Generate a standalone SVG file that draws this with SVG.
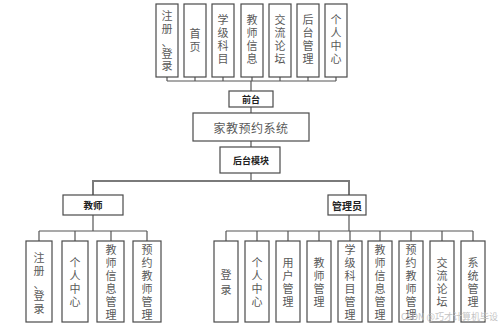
<svg xmlns="http://www.w3.org/2000/svg" width="500" height="326" viewBox="0 0 500 326">
<style>
.box{fill:#fff;stroke:#4a4a4a;stroke-width:1.2}
.ln{fill:none;stroke:#555;stroke-width:1.2}
.bus{fill:none;stroke:#7a7a7a;stroke-width:2}
.v{font-family:"Noto Sans CJK SC","Noto Sans",sans-serif;font-size:11px;fill:#5a5a5a;text-anchor:middle;dominant-baseline:central}
.b{font-family:"Noto Sans CJK SC","Noto Sans",sans-serif;font-weight:700;fill:#222;text-anchor:middle;dominant-baseline:central}
.t{font-family:"Noto Sans CJK SC","Noto Sans",sans-serif;font-size:12px;fill:#5a5a5a;text-anchor:middle;dominant-baseline:central;letter-spacing:0.5px}
.wm{font-family:"Noto Sans CJK SC","Noto Sans",sans-serif;font-size:9px;fill:#c4c4c4}
</style>
<rect width="500" height="326" fill="#fff"/>
<g id="connectors">
<path class="ln" d="M167 77V81M195 77V81M223 77V81M252 77V81M280 77V81M308 77V81M336 77V81M167 81H336M251 81V91M251 107V113M251 141V147M251 173V181"/>
<path class="bus" d="M93 195V181H349V195"/>
<path class="ln" d="M93 215V231M39 231H147M39 231V241M75 231V241M111 231V241M147 231V241"/>
<path class="ln" d="M349 215V231M226 231H473M226 231V241M257 231V241M288 231V241M319 231V241M350 231V241M380 231V241M411 231V241M442 231V241M473 231V241"/>
</g>
<g id="top1"><rect class="box" x="156" y="4" width="22" height="73"/><text class="v"><tspan x="167" y="15">注</tspan><tspan x="167" y="28">册</tspan><tspan x="167" y="41">、</tspan><tspan x="167" y="53">登</tspan><tspan x="167" y="65">录</tspan></text></g>
<g id="top2"><rect class="box" x="184" y="4" width="22" height="73"/><text class="v"><tspan x="195" y="33">首</tspan><tspan x="195" y="46">页</tspan></text></g>
<g id="top3"><rect class="box" x="212" y="4" width="22" height="73"/><text class="v"><tspan x="223" y="19">学</tspan><tspan x="223" y="32">级</tspan><tspan x="223" y="45">科</tspan><tspan x="223" y="58">目</tspan></text></g>
<g id="top4"><rect class="box" x="241" y="4" width="22" height="73"/><text class="v"><tspan x="252" y="19">教</tspan><tspan x="252" y="32">师</tspan><tspan x="252" y="45">信</tspan><tspan x="252" y="58">息</tspan></text></g>
<g id="top5"><rect class="box" x="269" y="4" width="22" height="73"/><text class="v"><tspan x="280" y="19">交</tspan><tspan x="280" y="32">流</tspan><tspan x="280" y="45">论</tspan><tspan x="280" y="58">坛</tspan></text></g>
<g id="top6"><rect class="box" x="297" y="4" width="22" height="73"/><text class="v"><tspan x="308" y="19">后</tspan><tspan x="308" y="32">台</tspan><tspan x="308" y="45">管</tspan><tspan x="308" y="58">理</tspan></text></g>
<g id="top7"><rect class="box" x="325" y="4" width="22" height="73"/><text class="v"><tspan x="336" y="19">个</tspan><tspan x="336" y="32">人</tspan><tspan x="336" y="45">中</tspan><tspan x="336" y="58">心</tspan></text></g>
<g id="qiantai"><rect class="box" x="229" y="91" width="44" height="16"/><text class="b" x="251" y="99" font-size="9">前台</text></g>
<g id="system"><rect class="box" x="193" y="113" width="116" height="28"/><text class="t" x="251" y="127">家教预约系统</text></g>
<g id="houtai"><rect class="box" x="220" y="147" width="60" height="26"/><text class="b" x="251" y="160" font-size="9">后台模块</text></g>
<g id="teacher"><rect class="box" x="63" y="195" width="60" height="20"/><text class="b" x="93" y="205" font-size="9.5">教师</text></g>
<g id="admin"><rect class="box" x="328" y="195" width="38" height="20"/><text class="b" x="347" y="205" font-size="10">管理员</text></g>
<g id="t1"><rect class="box" x="26" y="241" width="26" height="81"/><text class="v"><tspan x="39" y="257">注</tspan><tspan x="39" y="270">册</tspan><tspan x="39" y="283">、</tspan><tspan x="39" y="295">登</tspan><tspan x="39" y="308">录</tspan></text></g>
<g id="t2"><rect class="box" x="62" y="241" width="26" height="81"/><text class="v"><tspan x="75" y="262">个</tspan><tspan x="75" y="275">人</tspan><tspan x="75" y="288">中</tspan><tspan x="75" y="301">心</tspan></text></g>
<g id="t3"><rect class="box" x="97" y="241" width="27" height="81"/><text class="v"><tspan x="111" y="249">教</tspan><tspan x="111" y="262">师</tspan><tspan x="111" y="275">信</tspan><tspan x="111" y="288">息</tspan><tspan x="111" y="301">管</tspan><tspan x="111" y="314">理</tspan></text></g>
<g id="t4"><rect class="box" x="133" y="241" width="28" height="81"/><text class="v"><tspan x="147" y="249">预</tspan><tspan x="147" y="262">约</tspan><tspan x="147" y="275">教</tspan><tspan x="147" y="288">师</tspan><tspan x="147" y="301">管</tspan><tspan x="147" y="314">理</tspan></text></g>
<g id="a1"><rect class="box" x="214" y="241" width="24" height="81"/><text class="v"><tspan x="226" y="274">登</tspan><tspan x="226" y="289">录</tspan></text></g>
<g id="a2"><rect class="box" x="245" y="241" width="24" height="81"/><text class="v"><tspan x="257" y="262">个</tspan><tspan x="257" y="275">人</tspan><tspan x="257" y="288">中</tspan><tspan x="257" y="301">心</tspan></text></g>
<g id="a3"><rect class="box" x="276" y="241" width="24" height="81"/><text class="v"><tspan x="288" y="262">用</tspan><tspan x="288" y="275">户</tspan><tspan x="288" y="288">管</tspan><tspan x="288" y="301">理</tspan></text></g>
<g id="a4"><rect class="box" x="307" y="241" width="24" height="81"/><text class="v"><tspan x="319" y="262">教</tspan><tspan x="319" y="275">师</tspan><tspan x="319" y="288">管</tspan><tspan x="319" y="301">理</tspan></text></g>
<g id="a5"><rect class="box" x="338" y="241" width="24" height="81"/><text class="v"><tspan x="350" y="249">学</tspan><tspan x="350" y="262">级</tspan><tspan x="350" y="275">科</tspan><tspan x="350" y="288">目</tspan><tspan x="350" y="301">管</tspan><tspan x="350" y="314">理</tspan></text></g>
<g id="a6"><rect class="box" x="368" y="241" width="24" height="81"/><text class="v"><tspan x="380" y="249">教</tspan><tspan x="380" y="262">师</tspan><tspan x="380" y="275">信</tspan><tspan x="380" y="288">息</tspan><tspan x="380" y="301">管</tspan><tspan x="380" y="314">理</tspan></text></g>
<g id="a7"><rect class="box" x="399" y="241" width="24" height="81"/><text class="v"><tspan x="411" y="249">预</tspan><tspan x="411" y="262">约</tspan><tspan x="411" y="275">教</tspan><tspan x="411" y="288">师</tspan><tspan x="411" y="301">管</tspan><tspan x="411" y="314">理</tspan></text></g>
<g id="a8"><rect class="box" x="430" y="241" width="24" height="81"/><text class="v"><tspan x="442" y="262">交</tspan><tspan x="442" y="275">流</tspan><tspan x="442" y="288">论</tspan><tspan x="442" y="301">坛</tspan></text></g>
<g id="a9"><rect class="box" x="461" y="241" width="24" height="81"/><text class="v"><tspan x="473" y="262">系</tspan><tspan x="473" y="275">统</tspan><tspan x="473" y="288">管</tspan><tspan x="473" y="301">理</tspan></text></g>
<text class="wm" x="401" y="320">CSDN @巧才计算机毕设</text>
</svg>
